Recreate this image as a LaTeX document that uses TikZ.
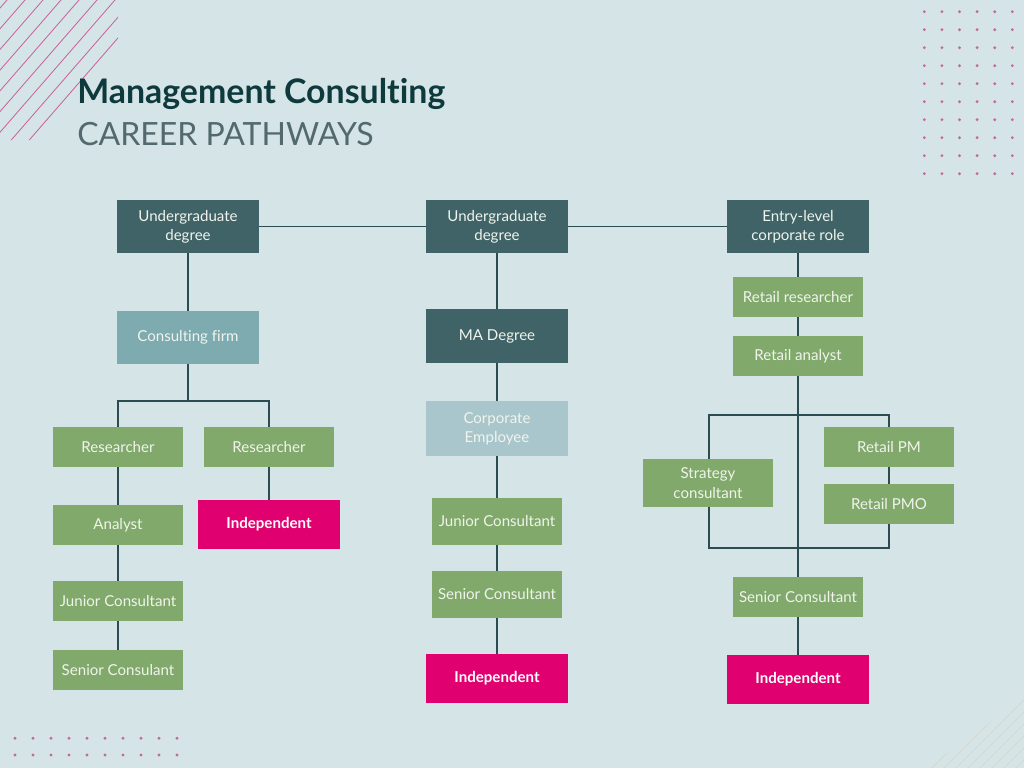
\documentclass[tikz,border=0pt]{standalone}
\usepackage{fontspec}
\setmainfont{Lato}[Ligatures=NoCommon]
\usetikzlibrary{backgrounds}
\definecolor{bg}{HTML}{D5E4E7}
\definecolor{dark}{HTML}{3F6367}
\definecolor{firm}{HTML}{7EABB0}
\definecolor{corp}{HTML}{A9C6CC}
\definecolor{grn}{HTML}{80A96B}
\definecolor{mag}{HTML}{E1006F}
\definecolor{ln}{HTML}{2B4D52}
\definecolor{ttl}{HTML}{0E3A3E}
\definecolor{sub}{HTML}{52696D}
\definecolor{pinkline}{HTML}{C8609A}
\definecolor{dotc}{HTML}{C8689A}
\definecolor{beige}{HTML}{E6D6BE}
\definecolor{txt}{HTML}{F0F4EC}
\begin{document}
\begin{tikzpicture}[x=0.75pt,y=-0.75pt,
  box/.style={rectangle, inner sep=0pt, align=center, text=txt,
    font=\fontsize{11.3}{14.5}\selectfont},
  sz/.style 2 args={minimum width=#1*0.75pt, minimum height=#2*0.75pt},
  darkbox/.style={box, fill=dark},
  firmbox/.style={box, fill=firm},
  corpbox/.style={box, fill=corp},
  grnbox/.style={box, fill=grn},
  indbox/.style={box, fill=mag, text=white, font=\fontsize{11.3}{14.5}\selectfont\bfseries},
  conn/.style={draw=ln, line width=1.1pt},
  deco/.style={draw=pinkline, line width=0.6pt},
  dot/.style={fill=dotc, draw=none}]
\useasboundingbox (0,0) rectangle (1024,768);

% decorations
\begin{scope}
  \clip (0,0) -- (118,0) -- (118,45) -- (40,140) -- (0,140) -- cycle;
  \foreach \c in {7,25,...,187} {
    \draw[deco] (\c-200,230) -- (\c+200,-230);
  }
\end{scope}
\begin{scope}
  \clip (926,768) -- (1024,698) -- (1024,768) -- cycle;
  \foreach \c in {1640,1652,...,1820} {
    \draw[draw=beige, line width=0.6pt] (\c-700,700) -- (\c-800,800);
  }
\end{scope}
\foreach \i in {0,...,5} \foreach \j in {0,...,9}
  \fill[dot] (924.3+17.6*\i, 11.7+18*\j) circle (1.6);
\foreach \i in {0,...,9} \foreach \j in {0,1}
  \fill[dot] (15+18*\i, 738.3+16.7*\j) circle (1.6);

% title
\node[anchor=base west, inner sep=0pt, text=ttl, font=\fontsize{25.4}{30}\selectfont\bfseries] (title) at (77,103) {Management Consulting};
\node[anchor=base west, inner sep=0pt, text=sub, font=\fontsize{24}{30}\selectfont] (subtitle) at (77,145) {CAREER PATHWAYS};

% top row
\node[darkbox, sz={142}{53}] (ug1) at (188,226.5) {Undergraduate\\degree};
\node[darkbox, sz={142}{53}] (ug2) at (497,226.5) {Undergraduate\\degree};
\node[darkbox, sz={142}{53}] (en) at (798,226.5) {Entry-level\\corporate role};

% left column
\node[firmbox, sz={142}{53}] (cf) at (188,337.5) {Consulting firm};
\node[grnbox, sz={130}{40}] (resl) at (118,447) {Researcher};
\node[grnbox, sz={130}{40}] (resr) at (269,447) {Researcher};
\node[grnbox, sz={130}{40}] (an) at (118,525) {Analyst};
\node[indbox, sz={142}{49}] (il) at (269,524.5) {Independent};
\node[grnbox, sz={130}{40}] (jl) at (118,601) {Junior Consultant};
\node[grnbox, sz={130}{40}] (sl) at (118,670) {Senior Consulant};
\coordinate (lj) at (188,401);

% middle column
\node[darkbox, sz={142}{54}] (ma) at (497,336) {MA Degree};
\node[corpbox, sz={142}{55}] (ce) at (497,428.5) {Corporate\\Employee};
\node[grnbox, sz={130}{47}] (jm) at (497,521.5) {Junior Consultant};
\node[grnbox, sz={130}{47}] (sm) at (497,594.5) {Senior Consultant};
\node[indbox, sz={142}{49}] (im) at (497,678.5) {Independent};

% right column
\node[grnbox, sz={130}{40}] (rr) at (798,297) {Retail researcher};
\node[grnbox, sz={130}{40}] (ra) at (798,356) {Retail analyst};
\node[grnbox, sz={130}{48}] (sc) at (708,483) {Strategy\\consultant};
\node[grnbox, sz={130}{40}] (pm) at (889,447) {Retail PM};
\node[grnbox, sz={130}{40}] (pmo) at (889,504) {Retail PMO};
\node[grnbox, sz={130}{40}] (sr) at (798,597) {Senior Consultant};
\node[indbox, sz={142}{49}] (ir) at (798,679.5) {Independent};
\coordinate (b1) at (709,415);
\coordinate (b2) at (889,548);

\begin{scope}[on background layer]
  \fill[bg] (0,0) rectangle (1024,768);
  \draw[conn] (ug1.east) -- (ug2.west);
  \draw[conn] (ug2.east) -- (en.west);
  \draw[conn] (ug1.south) -- (cf.north);
  \draw[conn] (cf.south) -- (lj);
  \draw[conn] (resl.north) |- (lj) -| (resr.north);
  \draw[conn] (resl.south) -- (an.north);
  \draw[conn] (an.south) -- (jl.north);
  \draw[conn] (jl.south) -- (sl.north);
  \draw[conn] (resr.south) -- (il.north);
  \draw[conn] (ug2.south) -- (ma.north);
  \draw[conn] (ma.south) -- (ce.north);
  \draw[conn] (ce.south) -- (jm.north);
  \draw[conn] (jm.south) -- (sm.north);
  \draw[conn] (sm.south) -- (im.north);
  \draw[conn] (en.south) -- (rr.north);
  \draw[conn] (rr.south) -- (ra.north);
  \draw[conn] (ra.south) -- (sr.north);
  \draw[conn] (b1) rectangle (b2);
  \draw[conn] (sr.south) -- (ir.north);
\end{scope}
\end{tikzpicture}
\end{document}
